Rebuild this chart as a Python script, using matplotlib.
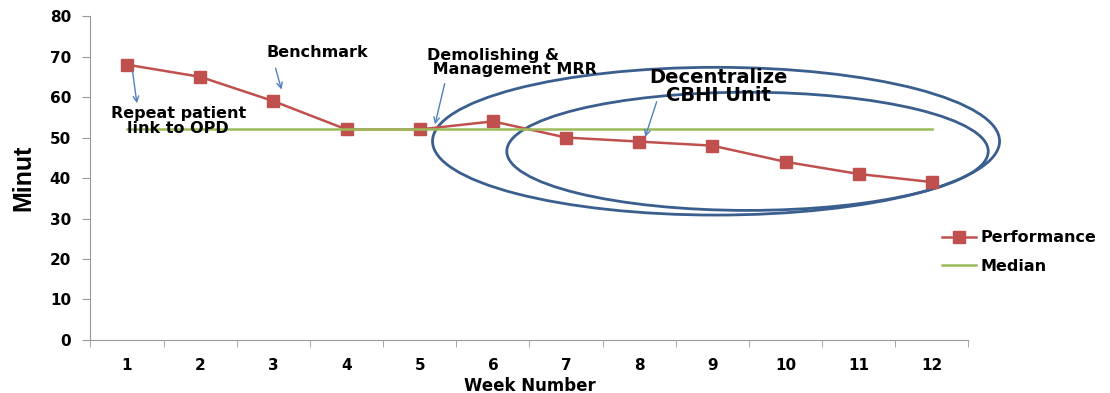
import matplotlib
matplotlib.use('Agg')
from matplotlib import pyplot as plt
from matplotlib.patches import Ellipse

weeks = [1, 2, 3, 4, 5, 6, 7, 8, 9, 10, 11, 12]
performance = [68, 65, 59, 52, 52, 54, 50, 49, 48, 44, 41, 39]
median = [52] * 12

plt.rcParams['font.family'] = ['DejaVu Sans']

fig = plt.figure(figsize=(11.1, 3.93), dpi=100)
ax = fig.add_axes([0.0815, 0.135, 0.791, 0.824])

ax.plot(weeks, performance, color='#C0504D', lw=1.8, marker='s', ms=8, label='Performance')
ax.plot(weeks, median, color='#9BBB59', lw=1.8, label='Median')

ax.set_xlim(0.5, 12.5)
ax.set_ylim(0, 80)
ax.set_yticks(range(0, 81, 10))
ax.set_xticks(weeks)
ax.set_xticks([w - 0.5 for w in weeks] + [12.5], minor=True)
ax.tick_params(axis='x', which='major', length=0, pad=13)
ax.tick_params(axis='x', which='minor', length=5, color='#999999', direction='out')
ax.tick_params(axis='y', length=6, color='#999999', pad=8)
for lbl in ax.get_xticklabels() + ax.get_yticklabels():
    lbl.set_fontweight('bold')
    lbl.set_fontsize(11)
for s in ['top', 'right']:
    ax.spines[s].set_visible(False)
for s in ['left', 'bottom']:
    ax.spines[s].set_color('#999999')

ax.set_xlabel('Week Number', fontweight='bold', fontsize=12, labelpad=3)
ax.set_ylabel('Minut', fontweight='bold', fontsize=18,
              family=['Liberation Sans Narrow', 'Liberation Sans'], labelpad=10)

# ellipses drawn around the later weeks
ax.add_patch(Ellipse((9.05, 49.1), 7.75, 36.5, fill=False, ec='#3A5F8F', lw=2, clip_on=False))
ax.add_patch(Ellipse((9.48, 46.6), 6.58, 29.2, fill=False, ec='#3A5F8F', lw=2, clip_on=False))

arrow = dict(arrowstyle='->', color='#4F81BD', lw=1)
ax.text(1.7, 54.1, 'Repeat patient\nlink to OPD', fontsize=11.5, fontweight='bold',
        ha='center', va='center', linespacing=0.95)
ax.annotate('', xy=(1.14, 57.8), xytext=(1.07, 67), arrowprops=arrow)
ax.text(3.6, 70.9, 'Benchmark', fontsize=11.5, fontweight='bold', ha='center', va='center')
ax.annotate('', xy=(3.12, 61.2), xytext=(3.02, 67.8), arrowprops=arrow)
ax.text(5.1, 68.5, 'Demolishing &\n Management MRR', fontsize=11.5, fontweight='bold',
        ha='left', va='center', linespacing=0.95)
ax.annotate('', xy=(5.2, 52.6), xytext=(5.35, 64), arrowprops=arrow)
ax.text(9.08, 62.6, 'Decentralize\nCBHI Unit', fontsize=14, fontweight='bold',
        ha='center', va='center', linespacing=0.9)
ax.annotate('', xy=(8.07, 49.5), xytext=(8.25, 59.5), arrowprops=arrow)

fig.legend(loc='upper left', bbox_to_anchor=(0.843, 0.43), frameon=False,
           prop={'weight': 'bold', 'size': 11.5}, handlelength=2.1, labelspacing=0.85,
           handletextpad=0.3, borderaxespad=0)

fig.savefig('out.png', dpi=100)
